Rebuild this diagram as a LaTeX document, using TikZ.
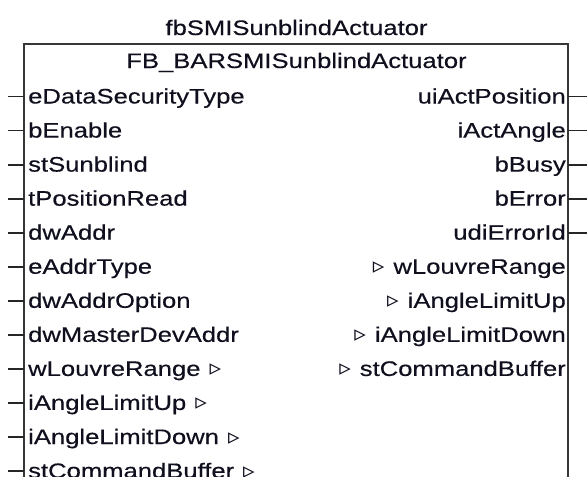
\documentclass[tikz,border=0pt]{standalone}
\usepackage{fontspec}
\setmainfont{Liberation Sans}[FakeStretch=1.22, FakeBold=0.4]
\newfontfamily\symbole{DejaVu Sans}
\usepackage{tikz}
\usetikzlibrary{positioning}
\definecolor{cadregris}{RGB}{55,55,55}
\definecolor{texte}{RGB}{15,15,30}
\newcommand{\tri}{{\symbole\bfseries\fontsize{23}{23}\selectfont ▹}}
\tikzset{
  entree/.style={anchor=base west, inner sep=0pt, text=texte, font=\fontsize{21}{25}\selectfont},
  sortie/.style={anchor=base east, inner sep=0pt, text=texte, font=\fontsize{21}{25}\selectfont},
  titre/.style={anchor=base, inner sep=0pt, text=texte, font=\fontsize{21}{25}\selectfont},
  cadre/.style={draw=cadregris, line width=2pt},
  broche/.style={draw=black!85, line width=1.8pt},
}

\begin{document}
\begin{tikzpicture}[x=1pt, y=-1pt]
    \useasboundingbox (0,0) rectangle (587,477);
    % Titres
    \node[titre] (instance) at (296.5,35) {fbSMISunblindActuator};
    \node[titre] (type)     at (296.5,68) {FB\_BARSMISunblindActuator};
    % Cadre du bloc
    \coordinate (hg) at (24,44);
    \coordinate (hd) at (568,44);
    \coordinate (bg) at (24,477);
    \coordinate (bd) at (568,477);
    \draw[cadre] (bg) -- (hg) -- (hd) -- (bd);
    % Entrees
    \node[entree] (secu)     at (28,103.5)  {eDataSecurityType};
    \node[entree] (enable)   at (28,137.55) {bEnable};
    \node[entree] (sunblind) at (28,171.6)  {stSunblind};
    \node[entree] (posread)  at (28,205.65) {tPositionRead};
    \node[entree] (addr)     at (28,239.7)  {dwAddr};
    \node[entree] (addrtype) at (28,273.75) {eAddrType};
    \node[entree] (addropt)  at (28,307.8)  {dwAddrOption};
    \node[entree] (master)   at (28,341.85) {dwMasterDevAddr};
    \node[entree] (louvre)   at (28,375.9)  {wLouvreRange\hspace{9pt}\tri};
    \node[entree] (angup)    at (28,409.95) {iAngleLimitUp\hspace{9pt}\tri};
    \node[entree] (angdown)  at (28,444)    {iAngleLimitDown\hspace{9pt}\tri};
    \node[entree] (cmdbuf)   at (28,478.05) {stCommandBuffer\hspace{9pt}\tri};
    % Sorties
    \node[sortie] (actpos)     at (566,103.5)  {uiActPosition};
    \node[sortie] (actangle)   at (566,137.55) {iActAngle};
    \node[sortie] (busy)       at (566,171.6)  {bBusy};
    \node[sortie] (error)      at (566,205.65) {bError};
    \node[sortie] (errid)      at (566,239.7)  {udiErrorId};
    \node[sortie] (louvreout)  at (566,273.75) {\tri\hspace{9pt}wLouvreRange};
    \node[sortie] (angupout)   at (566,307.8)  {\tri\hspace{9pt}iAngleLimitUp};
    \node[sortie] (angdownout) at (566,341.85) {\tri\hspace{9pt}iAngleLimitDown};
    \node[sortie] (cmdbufout)  at (566,375.9)  {\tri\hspace{9pt}stCommandBuffer};
    % Broches d'entree
    \coordinate (pe1)  at (8,96.5);
    \coordinate (pe2)  at (8,130.55);
    \coordinate (pe3)  at (8,164.6);
    \coordinate (pe4)  at (8,198.65);
    \coordinate (pe5)  at (8,232.7);
    \coordinate (pe6)  at (8,266.75);
    \coordinate (pe7)  at (8,300.8);
    \coordinate (pe8)  at (8,334.85);
    \coordinate (pe9)  at (8,368.9);
    \coordinate (pe10) at (8,402.95);
    \coordinate (pe11) at (8,437);
    \coordinate (pe12) at (8,471.05);
    \draw[broche] (pe1) -- (hg |- pe1);
    \draw[broche] (pe2) -- (hg |- pe2);
    \draw[broche] (pe3) -- (hg |- pe3);
    \draw[broche] (pe4) -- (hg |- pe4);
    \draw[broche] (pe5) -- (hg |- pe5);
    \draw[broche] (pe6) -- (hg |- pe6);
    \draw[broche] (pe7) -- (hg |- pe7);
    \draw[broche] (pe8) -- (hg |- pe8);
    \draw[broche] (pe9) -- (hg |- pe9);
    \draw[broche] (pe10) -- (hg |- pe10);
    \draw[broche] (pe11) -- (hg |- pe11);
    \draw[broche] (pe12) -- (hg |- pe12);
    % Broches de sortie
    \coordinate (ps1) at (587,96.5);
    \coordinate (ps2) at (587,130.55);
    \coordinate (ps3) at (587,164.6);
    \coordinate (ps4) at (587,198.65);
    \coordinate (ps5) at (587,232.7);
    \draw[broche] (hd |- ps1) -- (ps1);
    \draw[broche] (hd |- ps2) -- (ps2);
    \draw[broche] (hd |- ps3) -- (ps3);
    \draw[broche] (hd |- ps4) -- (ps4);
    \draw[broche] (hd |- ps5) -- (ps5);
\end{tikzpicture}
\end{document}
